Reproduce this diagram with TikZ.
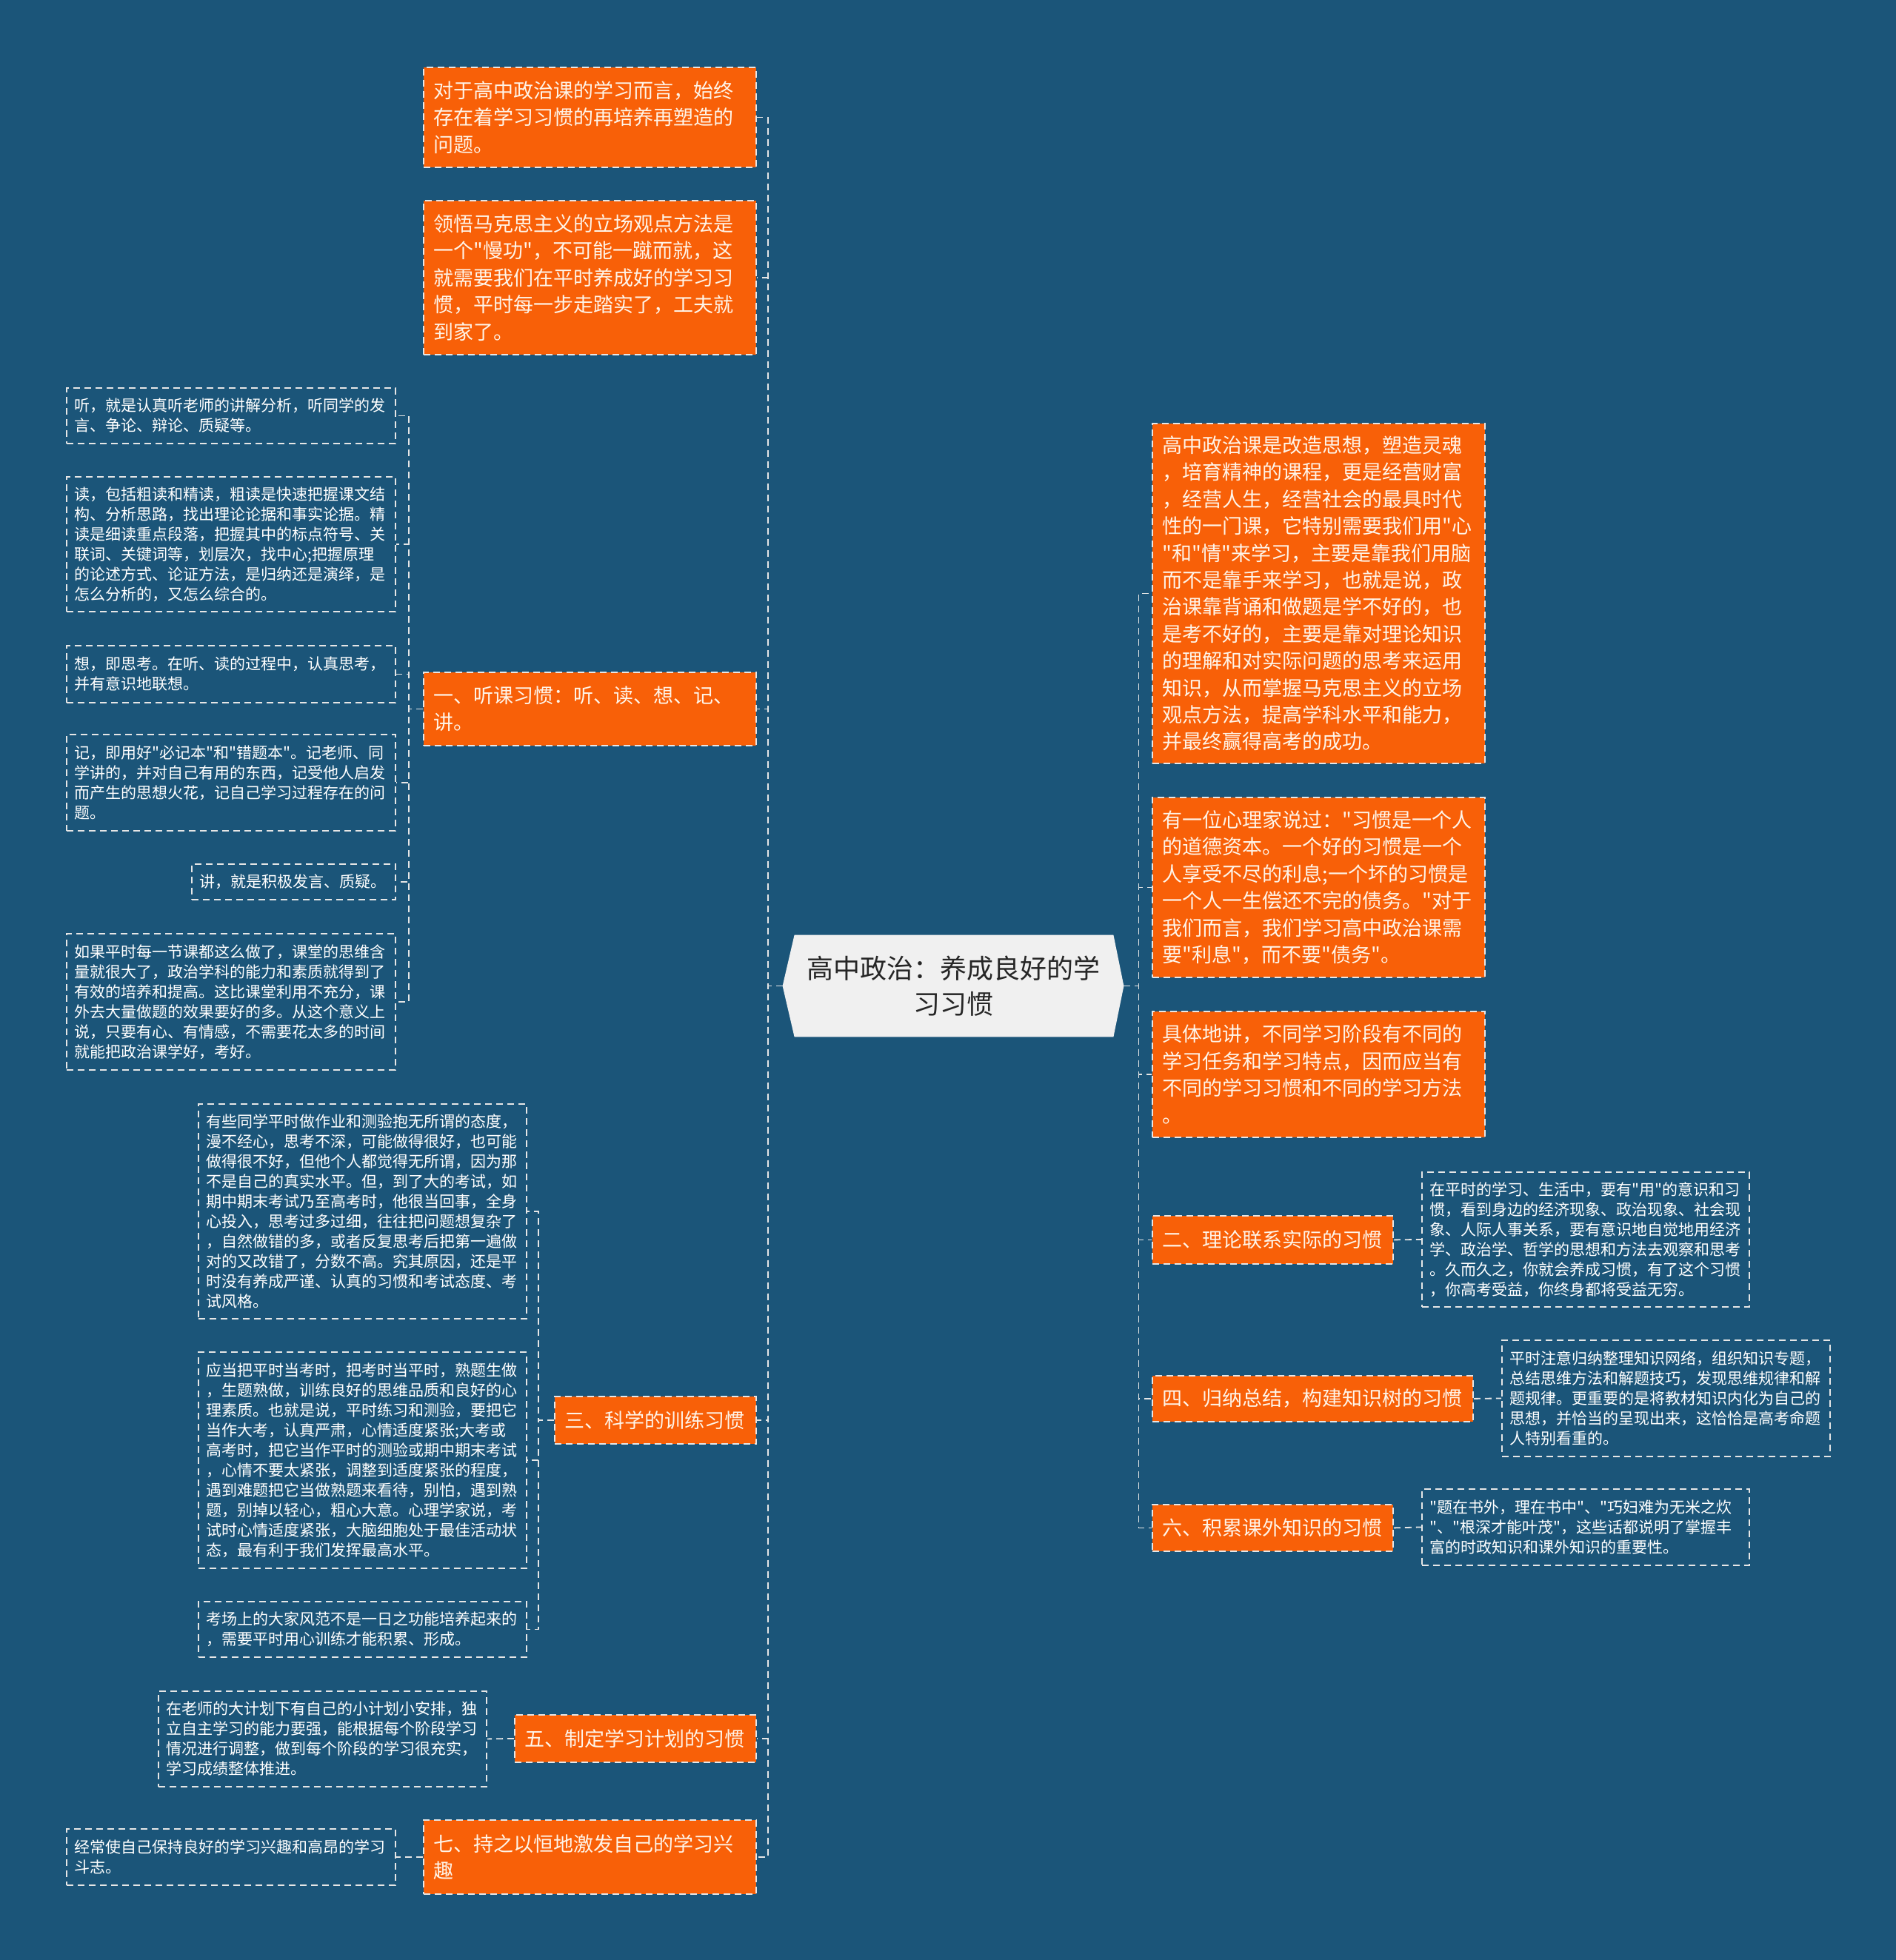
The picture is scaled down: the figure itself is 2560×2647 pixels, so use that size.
\documentclass[tikz,border=0pt]{standalone}
\usepackage{fontspec}
\newfontfamily\cjk{Noto Sans CJK SC}
\usepackage{xcolor}
\usetikzlibrary{backgrounds}
\definecolor{bgblue}{HTML}{1B5579}
\definecolor{topicfill}{HTML}{F86008}
\definecolor{topictext}{HTML}{FFF4E8}
\definecolor{dashline}{HTML}{E6E6E6}
\definecolor{centrefill}{HTML}{F0F0F0}
\definecolor{centretext}{HTML}{262626}

\begin{document}
\begin{tikzpicture}[x=0.5pt, y=-0.5pt,
  topic/.style={fill=topicfill, draw=dashline, line width=0.9pt, dash pattern=on 4.5pt off 3pt,
    text=topictext, font=\cjk\fontsize{13.5}{18.2}\selectfont, align=left, anchor=north west,
    inner xsep=7pt, inner ysep=0pt},
  detail/.style={draw=dashline, line width=0.9pt, dash pattern=on 4.5pt off 3pt,
    text=white, font=\cjk\fontsize{10.5}{13.5}\selectfont, align=left, anchor=north west,
    inner xsep=5.5pt, inner ysep=0pt},
  link/.style={draw=dashline, line width=0.9pt, dash pattern=on 4.5pt off 3pt}]

  \useasboundingbox (0,0) rectangle (2560,2647);

  \node[font=\cjk\fontsize{18}{24}\selectfont, text=centretext, align=center,
    minimum width=230pt, minimum height=68.5pt, inner sep=0pt] (ctr) at (1287,1331.5)
    {高中政治：养成良好的学\\习习惯};
  \begin{scope}[on background layer]
    \fill[bgblue] (0,0) rectangle (2560,2647);
    \fill[centrefill] ([xshift=8pt]ctr.north west) -- ([xshift=-7pt]ctr.north east) -- (ctr.east)
      -- ([xshift=-7pt]ctr.south east) -- ([xshift=8pt]ctr.south west) -- (ctr.west) -- cycle;
  \end{scope}

  % left side
  \node[topic, text width=210.5pt, minimum height=67.5pt] (left1) at (571,90)
    {对于高中政治课的学习而言，始终\\存在着学习习惯的再培养再塑造的\\问题。};
  \node[topic, text width=210.5pt, minimum height=104pt] (left2) at (571,270)
    {领悟马克思主义的立场观点方法是\\一个"慢功"，不可能一蹴而就，这\\就需要我们在平时养成好的学习习\\惯，平时每一步走踏实了，工夫就\\到家了。};
  \node[topic, text width=210.5pt, minimum height=49.5pt] (left3) at (571,907)
    {一、听课习惯：听、读、想、记、\\讲。};
  \node[topic, text width=122pt, minimum height=32pt] (left4) at (748,1885)
    {三、科学的训练习惯};
  \node[topic, text width=149pt, minimum height=32pt] (left5) at (694,2315)
    {五、制定学习计划的习惯};
  \node[topic, text width=210.5pt, minimum height=50pt] (left6) at (571,2457)
    {七、持之以恒地激发自己的学习兴\\趣};

  \node[detail, text width=211pt, minimum height=37.5pt] (left3a) at (89,523)
    {听，就是认真听老师的讲解分析，听同学的发\\言、争论、辩论、质疑等。};
  \node[detail, text width=211pt, minimum height=91pt] (left3b) at (89,643)
    {读，包括粗读和精读，粗读是快速把握课文结\\构、分析思路，找出理论论据和事实论据。精\\读是细读重点段落，把握其中的标点符号、关\\联词、关键词等，划层次，找中心;把握原理\\的论述方式、论证方法，是归纳还是演绎，是\\怎么分析的，又怎么综合的。};
  \node[detail, text width=211pt, minimum height=38.5pt] (left3c) at (89,871)
    {想，即思考。在听、读的过程中，认真思考，\\并有意识地联想。};
  \node[detail, text width=211pt, minimum height=65pt] (left3d) at (89,991)
    {记，即用好"必记本"和"错题本"。记老师、同\\学讲的，并对自己有用的东西，记受他人启发\\而产生的思想火花，记自己学习过程存在的问\\题。};
  \node[detail, text width=126.5pt, minimum height=24pt] (left3e) at (258,1166)
    {讲，就是积极发言、质疑。};
  \node[detail, text width=211pt, minimum height=92pt] (left3f) at (89,1260)
    {如果平时每一节课都这么做了，课堂的思维含\\量就很大了，政治学科的能力和素质就得到了\\有效的培养和提高。这比课堂利用不充分，课\\外去大量做题的效果要好的多。从这个意义上\\说，只要有心、有情感，不需要花太多的时间\\就能把政治课学好，考好。};

  \node[detail, text width=210.5pt, minimum height=145pt] (left4a) at (267,1490)
    {有些同学平时做作业和测验抱无所谓的态度，\\漫不经心，思考不深，可能做得很好，也可能\\做得很不好，但他个人都觉得无所谓，因为那\\不是自己的真实水平。但，到了大的考试，如\\期中期末考试乃至高考时，他很当回事，全身\\心投入，思考过多过细，往往把问题想复杂了\\，自然做错的多，或者反复思考后把第一遍做\\对的又改错了，分数不高。究其原因，还是平\\时没有养成严谨、认真的习惯和考试态度、考\\试风格。};
  \node[detail, text width=210.5pt, minimum height=146pt] (left4b) at (267,1825)
    {应当把平时当考时，把考时当平时，熟题生做\\，生题熟做，训练良好的思维品质和良好的心\\理素质。也就是说，平时练习和测验，要把它\\当作大考，认真严肃，心情适度紧张;大考或\\高考时，把它当作平时的测验或期中期末考试\\，心情不要太紧张，调整到适度紧张的程度，\\遇到难题把它当做熟题来看待，别怕，遇到熟\\题，别掉以轻心，粗心大意。心理学家说，考\\试时心情适度紧张，大脑细胞处于最佳活动状\\态，最有利于我们发挥最高水平。};
  \node[detail, text width=210.5pt, minimum height=37.5pt] (left4c) at (267,2162)
    {考场上的大家风范不是一日之功能培养起来的\\，需要平时用心训练才能积累、形成。};

  \node[detail, text width=210.5pt, minimum height=64.5pt] (left5a) at (213,2283)
    {在老师的大计划下有自己的小计划小安排，独\\立自主学习的能力要强，能根据每个阶段学习\\情况进行调整，做到每个阶段的学习很充实，\\学习成绩整体推进。};
  \node[detail, text width=211pt, minimum height=38pt] (left6a) at (89,2469)
    {经常使自己保持良好的学习兴趣和高昂的学习\\斗志。};

  % right side
  \node[topic, text width=210.5pt, minimum height=229.5pt] (right1) at (1555,571)
    {高中政治课是改造思想，塑造灵魂\\，培育精神的课程，更是经营财富\\，经营人生，经营社会的最具时代\\性的一门课，它特别需要我们用"心\\"和"情"来学习，主要是靠我们用脑\\而不是靠手来学习，也就是说，政\\治课靠背诵和做题是学不好的，也\\是考不好的，主要是靠对理论知识\\的理解和对实际问题的思考来运用\\知识，从而掌握马克思主义的立场\\观点方法，提高学科水平和能力，\\并最终赢得高考的成功。};
  \node[topic, text width=210.5pt, minimum height=121.5pt] (right2) at (1555,1076)
    {有一位心理家说过："习惯是一个人\\的道德资本。一个好的习惯是一个\\人享受不尽的利息;一个坏的习惯是\\一个人一生偿还不完的债务。"对于\\我们而言，我们学习高中政治课需\\要"利息"，而不要"债务"。};
  \node[topic, text width=210.5pt, minimum height=85pt] (right3) at (1555,1365)
    {具体地讲，不同学习阶段有不同的\\学习任务和学习特点，因而应当有\\不同的学习习惯和不同的学习方法\\。};
  \node[topic, text width=148.5pt, minimum height=32.5pt] (right4) at (1555,1641)
    {二、理论联系实际的习惯};
  \node[topic, text width=202.5pt, minimum height=31pt] (right5) at (1555,1857)
    {四、归纳总结，构建知识树的习惯};
  \node[topic, text width=148.5pt, minimum height=31.5pt] (right6) at (1555,2031)
    {六、积累课外知识的习惯};

  \node[detail, text width=210pt, minimum height=91pt] (right4a) at (1919,1582)
    {在平时的学习、生活中，要有"用"的意识和习\\惯，看到身边的经济现象、政治现象、社会现\\象、人际人事关系，要有意识地自觉地用经济\\学、政治学、哲学的思想和方法去观察和思考\\。久而久之，你就会养成习惯，有了这个习惯\\，你高考受益，你终身都将受益无穷。};
  \node[detail, text width=210.5pt, minimum height=78.5pt] (right5a) at (2027,1809)
    {平时注意归纳整理知识网络，组织知识专题，\\总结思维方法和解题技巧，发现思维规律和解\\题规律。更重要的是将教材知识内化为自己的\\思想，并恰当的呈现出来，这恰恰是高考命题\\人特别看重的。};
  \node[detail, text width=210pt, minimum height=51.5pt] (right6a) at (1919,2010)
    {"题在书外，理在书中"、"巧妇难为无米之炊\\"、"根深才能叶茂"，这些话都说明了掌握丰\\富的时政知识和课外知识的重要性。};

  % connectors
  \foreach \n in {1,...,6} {
    \draw[link] (ctr.west) -- ++(-10pt,0) |- (left\n.east);
    \draw[link] (ctr.east) -- ++(10pt,0) |- (right\n.west);
  }
  \foreach \s in {a,...,f}
    \draw[link] (left3.west) -- ++(-9.5pt,0) |- (left3\s.east);
  \foreach \s in {a,b,c}
    \draw[link] (left4.west) -- ++(-10.5pt,0) |- (left4\s.east);
  \draw[link] (left5.west) -- (left5a.east);
  \draw[link] (left6.west) -- (left6a.east);
  \draw[link] (right4.east) -- (right4a.west);
  \draw[link] (right5.east) -- (right5a.west);
  \draw[link] (right6.east) -- (right6a.west);
\end{tikzpicture}
\end{document}
